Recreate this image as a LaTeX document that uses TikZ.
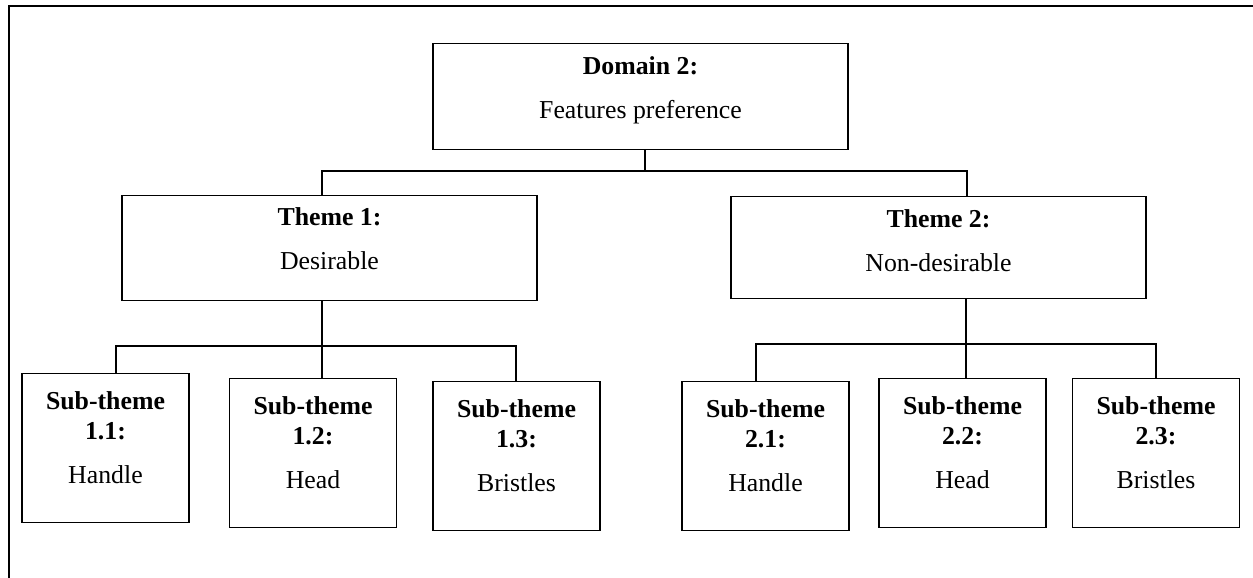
\documentclass[tikz,border=0pt]{standalone}
\usepackage{fontspec}
\setmainfont{Liberation Serif}
\usetikzlibrary{positioning}

\tikzset{
	frame/.style={line width=1pt},
	bigbox/.style={draw, line width=0.6pt, anchor=north, minimum width=207.5pt, inner sep=0pt},
	subbox/.style={draw, line width=0.6pt, anchor=north, minimum width=83.5pt, minimum height=74.5pt, inner sep=0pt},
	hd/.style={anchor=base, inner sep=0pt, font=\fontsize{12.9}{15}\selectfont\bfseries},
	tx/.style={anchor=base, inner sep=0pt, font=\fontsize{12.9}{15}\selectfont},
	link/.style={line width=0.6pt}
}

\begin{document}
\begin{tikzpicture}[x=0.5pt, y=-0.5pt]
	\useasboundingbox (0,0) rectangle (1253,578);

	% open frame, top and left side only
	\draw[frame] (1253,5.5) -- (8.5,5.5) -- (8.5,578);

	% domain and the two themes
	\node[bigbox, minimum height=53pt] (dom) at (640.5,43) {};
	\node[hd] (dom-a) at (640.5,74) {Domain 2:};
	\node[tx] (dom-b) at (640.5,118) {Features preference};

	\node[bigbox, minimum height=52.5pt] (th1) at (329.5,195) {};
	\node[hd] (th1-a) at (329.5,225) {Theme 1:};
	\node[tx] (th1-b) at (329.5,269) {Desirable};

	\node[bigbox, minimum height=51pt] (th2) at (938.5,196) {};
	\node[hd] (th2-a) at (938.5,227) {Theme 2:};
	\node[tx] (th2-b) at (938.5,271) {Non-desirable};

	% sub-themes
	\foreach \name/\num/\x/\top/\word in {s11/1.1/105.5/373/Handle, s12/1.2/313/378/Head, s13/1.3/516.5/381/Bristles, s21/2.1/765.5/381/Handle, s22/2.2/962.5/378/Head, s23/2.3/1156/378/Bristles}{
		\node[subbox] (\name) at (\x,\top) {};
		\node[hd] (\name-a) at (\x,\top+36) {Sub-theme};
		\node[hd] (\name-b) at (\x,\top+66) {\num:};
		\node[tx] (\name-c) at (\x,\top+110) {\word};
	}

	% junction points of the branches
	\coordinate (j0) at (645,171);
	\coordinate (j0l) at (322,171);
	\coordinate (j0r) at (967,171);
	\coordinate (j1) at (322,346);
	\coordinate (j1l) at (116,346);
	\coordinate (j1r) at (516,346);
	\coordinate (j2) at (966,344);
	\coordinate (j2l) at (756,344);
	\coordinate (j2r) at (1156,344);

	\draw[link] (dom.south -| j0) -- (j0);
	\draw[link] (th1.north -| j0l) -- (j0l) -- (j0r) -- (th2.north -| j0r);

	\draw[link] (th1.south -| j1) -- (s12.north -| j1);
	\draw[link] (s11.north -| j1l) -- (j1l) -- (j1r) -- (s13.north -| j1r);

	\draw[link] (th2.south -| j2) -- (s22.north -| j2);
	\draw[link] (s21.north -| j2l) -- (j2l) -- (j2r) -- (s23.north -| j2r);
\end{tikzpicture}
\end{document}
